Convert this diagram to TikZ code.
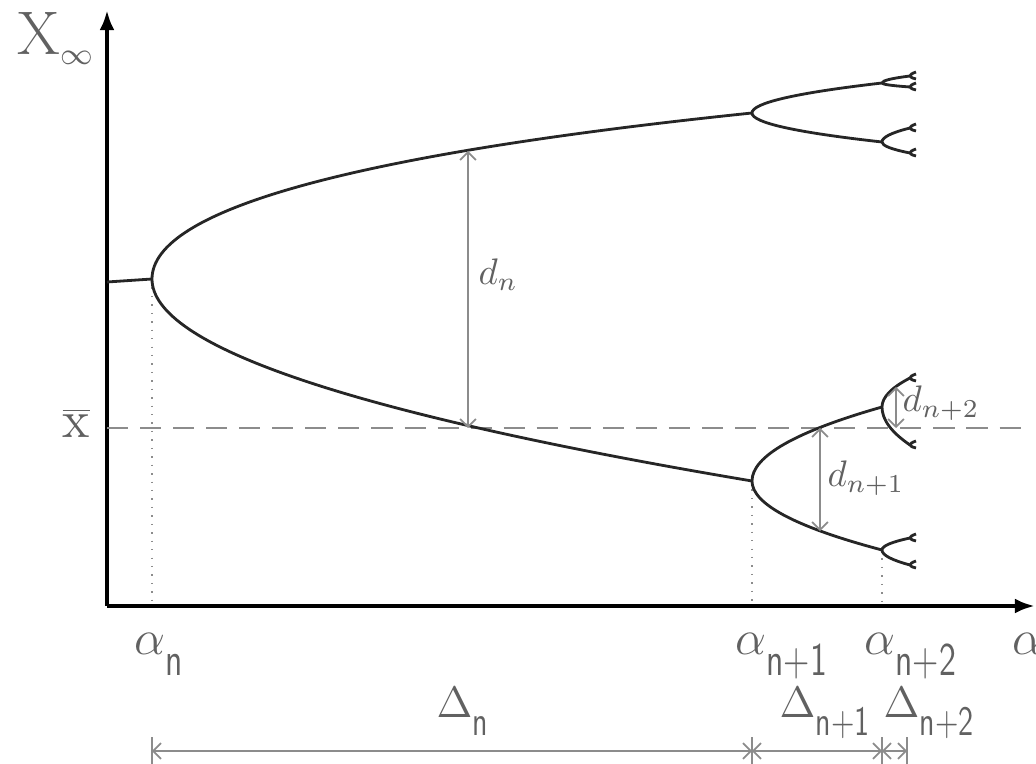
\documentclass[tikz,border=0pt]{standalone}
\usepackage{fix-cm}
\usepackage{xcolor}
\usepackage{tikz}
\usetikzlibrary{arrows.meta}

\definecolor{labelgray}{gray}{0.38}
\definecolor{guidegray}{gray}{0.55}

% fork at (#1,#2), length #3, upper and lower offsets #4 and #5
\newcommand{\bifurc}[5]{%
    \draw[branch] ({#1+#3},{#2+(#4)}) .. controls ({#1+#3/3},{#2+2*(#4)/3}) and (#1,{#2+(#4)/3}) .. (#1,#2)
        .. controls (#1,{#2+(#5)/3}) and ({#1+#3/3},{#2+2*(#5)/3}) .. ({#1+#3},{#2+(#5)});}
% narrow upright index
\newcommand{\idx}[1]{\raisebox{-0.42em}{\scalebox{0.7}[0.95]{\textsf{#1}}}}

\begin{document}
\begin{tikzpicture}[
        x=0.01cm, y=-0.01cm,
        branch/.style={line width=0.8pt, black!85},
        axis/.style={line width=1.2pt, -{Latex[length=5.7pt,width=4.2pt]}},
        guide/.style={guidegray, line width=0.4pt, dotted},
        mean/.style={guidegray, line width=0.5pt, dash pattern=on 6pt off 3.4pt},
        dist/.style={guidegray, line width=0.5pt, {Straight Barb[length=2.2pt,width=4.5pt]}-{Straight Barb[length=2.2pt,width=4.5pt]}},
        lbl/.style={labelgray, inner sep=0pt, anchor=base west},
        alab/.style={lbl, font=\fontsize{14}{16}\selectfont},
        dlab/.style={lbl, font=\fontsize{10.5}{12}\selectfont},
        deltalab/.style={lbl, font=\fontsize{12.5}{14}\selectfont}
    ]
    \useasboundingbox (0,0) rectangle (1036,764);

    % axes
    \coordinate (o) at (107,606);
    \coordinate (ytip) at (107,10);
    \coordinate (xtip) at (1035,606);
    \draw[axis] (o) -- (ytip);
    \draw[axis] (o) -- (xtip);

    \node[lbl, font=\fontsize{17.5}{20}\selectfont] (xinf) at (17,55) {$\mathrm{X}_{\scriptscriptstyle\infty}$};
    \node[lbl, font=\fontsize{15}{18}\selectfont] (xbar) at (62,438) {$\overline{\mathrm{x}}$};

    % mean value
    \coordinate (m0) at (107,428);
    \coordinate (m1) at (1030,428);
    \draw[mean] (m0) -- (m1);

    % bifurcation points
    \coordinate (p0) at (152,279);
    \coordinate (p1) at (752,481);
    \coordinate (p2) at (882,550);

    \draw[guide] (p0) -- (152,606);
    \draw[guide] (p1) -- (752,606);
    \draw[guide] (p2) -- (882,606);

    % branches
    \draw[branch] (107,282) -- (p0);
    \draw[branch] (752,113) .. controls (352,154.5) and (152,209.8) .. (p0)
        .. controls (152,346.3) and (352,413.7) .. (p1);

    \bifurc{752}{113}{130}{-30}{29}
    \bifurc{752}{481}{130}{-74}{69}

    \bifurc{882}{83}{28}{-7}{4}
    \bifurc{882}{142}{28}{-14}{11}
    \bifurc{882}{407}{28}{-29}{38}
    \bifurc{882}{550}{28}{-12}{15}

    \foreach \py in {76,87,128,153,378,445,538,565}
        {\bifurc{910}{\py}{6}{-4}{3}}

    % distances
    \coordinate (dn0) at (468,151);
    \coordinate (dn1) at (468,428);
    \draw[dist] (dn0) -- (dn1);
    \node[dlab] (dn) at (478,285) {$d_n$};

    \coordinate (dm0) at (820,428);
    \coordinate (dm1) at (820,531);
    \draw[dist] (dm0) -- (dm1);
    \node[dlab] (dm) at (827,487) {$d_{n+1}$};

    \coordinate (dk0) at (896,387);
    \coordinate (dk1) at (896,428);
    \draw[dist] (dk0) -- (dk1);
    \node[dlab] (dk) at (902,412) {$d_{n+2}$};

    % parameter values
    \node[alab] (an)  at (134,655) {$\alpha$\idx{n}};
    \node[alab] (an1) at (735,655) {$\alpha$\idx{n+1}};
    \node[alab] (an2) at (864,655) {$\alpha$\idx{n+2}};
    \node[alab] (aa)  at (1012,655) {$\alpha$};

    % intervals
    \coordinate (e0) at (152,751);
    \coordinate (e1) at (752,751);
    \coordinate (e2) at (882,751);
    \coordinate (e3) at (907,751);
    \foreach \ex in {152,752,882,907}
        \draw[guidegray, line width=0.4pt] (\ex,737) -- (\ex,764);
    \draw[dist] (e0) -- (e1);
    \draw[dist] (e1) -- (e2);
    \draw[dist] (e2) -- (e3);

    \node[deltalab] (dl0) at (436,717) {$\Delta$\idx{n}};
    \node[deltalab] (dl1) at (779,717) {$\Delta$\idx{n+1}};
    \node[deltalab] (dl2) at (883,717) {$\Delta$\idx{n+2}};

\end{tikzpicture}
\end{document}
